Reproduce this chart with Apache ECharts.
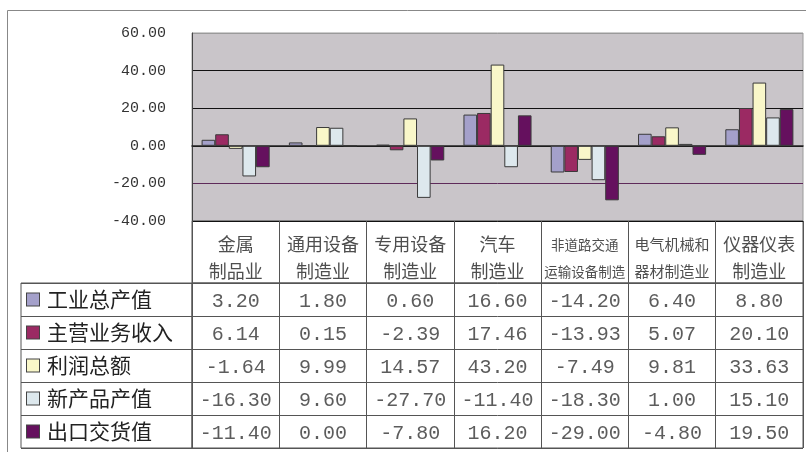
<!DOCTYPE html>
<html>
<head>
<meta charset="utf-8">
<script src="https://cdn.jsdelivr.net/npm/echarts@6/dist/echarts.min.js"></script>
<style>
  html, body { margin: 0; padding: 0; background: #fff; }
  #main { width: 806px; height: 452px; }
</style>
</head>
<body>
<div id="main"></div>
<script>
var categories = ['金属\n制品业', '通用设备\n制造业', '专用设备\n制造业', '汽车\n制造业',
    '非道路交通\n运输设备制造', '电气机械和\n器材制造业', '仪器仪表\n制造业'];
var seriesNames = ['工业总产值', '主营业务收入', '利润总额', '新产品产值', '出口交货值'];
var grossOutput = [3.20, 1.80, 0.60, 16.60, -14.20, 6.40, 8.80];
var mainRevenue = [6.14, 0.15, -2.39, 17.46, -13.93, 5.07, 20.10];
var totalProfit = [-1.64, 9.99, 14.57, 43.20, -7.49, 9.81, 33.63];
var newProductOutput = [-16.30, 9.60, -27.70, -11.40, -18.30, 1.00, 15.10];
var exportValue = [-11.40, 0.00, -7.80, 16.20, -29.00, -4.80, 19.50];
var yTicks = [-40, -20, 0, 20, 40, 60];

var allValues = [grossOutput, mainRevenue, totalProfit, newProductOutput, exportValue];
var colors = ['#a4a0ca', '#9b2a63', '#f9f7c9', '#dde8ed', '#65105e'];
// header font size, the long names are set smaller
var headerSizes = [18, 18, 18, 18, 13.5, 15, 18];

var cjk = '"Noto Sans CJK SC", sans-serif';
var mono = '"Liberation Mono", monospace';
var lineCol = '#555';

var chart = echarts.init(document.getElementById('main'));

var series = [];
// bars
allValues.forEach(function (vals, i) {
    series.push({
        name: seriesNames[i],
        type: 'bar',
        xAxisIndex: 0,
        yAxisIndex: 0,
        data: vals,
        barGap: '0%',
        barCategoryGap: '22%',
        itemStyle: { color: colors[i], borderColor: '#3a3a3a', borderWidth: 1 },
        silent: true
    });
});

// header row text
var headRich = {};
headerSizes.forEach(function (s, i) {
    headRich['h' + i] = { fontSize: s, fontFamily: cjk, color: '#222', lineHeight: 27, align: 'center' };
});
series.push({
    type: 'scatter',
    xAxisIndex: 1,
    yAxisIndex: 1,
    symbolSize: 0,
    silent: true,
    data: categories.map(function (c, i) { return [i, 0]; }),
    label: {
        show: true,
        position: 'inside',
        offset: [0, 6],
        formatter: function (p) {
            var i = p.dataIndex;
            return categories[i].split('\n').map(function (l) {
                return '{h' + i + '|' + l + '}';
            }).join('\n');
        },
        rich: headRich
    }
});

// table values
var cells = [];
allValues.forEach(function (vals, r) {
    vals.forEach(function (v, c) { cells.push([c, r, v]); });
});
series.push({
    type: 'scatter',
    xAxisIndex: 2,
    yAxisIndex: 2,
    symbolSize: 0,
    silent: true,
    data: cells,
    label: {
        show: true,
        position: 'inside',
        offset: [0, 2],
        fontFamily: mono,
        fontSize: 20,
        color: '#333',
        formatter: function (p) { return p.value[2].toFixed(2); }
    }
});

var legendRich = { t: { fontFamily: cjk, fontSize: 21, color: '#222', padding: [0, 0, 0, 8] } };
colors.forEach(function (c, i) {
    legendRich['b' + i] = { width: 12, height: 12, backgroundColor: c, borderColor: '#444', borderWidth: 1 };
});

var tableLine = { show: true, interval: 0, lineStyle: { color: lineCol, width: 1 } };

var option = {
    animation: false,
    backgroundColor: '#fff',
    graphic: [{
        type: 'rect',
        shape: { x: 7.5, y: 10.5, width: 810, height: 450 },
        style: { fill: 'none', stroke: '#888', lineWidth: 1 },
        silent: true
    }],
    grid: [
        { left: 192, top: 33, width: 611, height: 188, show: true, backgroundColor: '#c9c5c9', borderColor: '#9a9a9a', borderWidth: 1 },
        { left: 192, top: 221, width: 611, height: 62, show: true, backgroundColor: 'transparent', borderColor: lineCol, borderWidth: 1 },
        { left: 192, top: 283, width: 611, height: 165, show: true, backgroundColor: 'transparent', borderColor: lineCol, borderWidth: 1 },
        { left: 21, top: 283, width: 171, height: 165, show: true, backgroundColor: 'transparent', borderColor: lineCol, borderWidth: 1 }
    ],
    xAxis: [
        { type: 'category', gridIndex: 0, data: categories,
          axisLine: { show: true, onZero: true, lineStyle: { color: '#222', width: 1.5 } },
          axisTick: { show: false }, axisLabel: { show: false }, splitLine: { show: false } },
        { type: 'category', gridIndex: 1, data: categories,
          axisLine: { show: false }, axisTick: { show: false }, axisLabel: { show: false, interval: 0 },
          splitLine: tableLine },
        { type: 'category', gridIndex: 2, data: categories,
          axisLine: { show: false }, axisTick: { show: false }, axisLabel: { show: false, interval: 0 },
          splitLine: tableLine },
        { type: 'value', gridIndex: 3, min: 0, max: 1, show: false }
    ],
    yAxis: [
        { type: 'value', gridIndex: 0, min: yTicks[0], max: yTicks[yTicks.length - 1], interval: 20,
          axisLine: { show: true, lineStyle: { color: '#444' } },
          axisTick: { show: false },
          axisLabel: { margin: 26, fontFamily: mono, fontSize: 15, color: '#333',
                       formatter: function (v) { return v.toFixed(2); } },
          splitLine: { show: true, lineStyle: { color: ['#111', '#5e2a5a', '#111', '#111', '#111', '#9a9a9a'], width: 1 } } },
        { type: 'value', gridIndex: 1, min: -1, max: 1, show: false },
        { type: 'category', gridIndex: 2, data: seriesNames, inverse: true,
          axisLine: { show: false }, axisTick: { show: false }, axisLabel: { show: false, interval: 0 },
          splitLine: tableLine },
        { type: 'category', gridIndex: 3, data: seriesNames, inverse: true,
          axisLine: { show: false }, axisTick: { show: false },
          splitLine: tableLine,
          axisLabel: { inside: true, margin: 6, align: 'left', interval: 0,
                       formatter: function (v, i) { return '{b' + i + '|}{t|' + v + '}'; },
                       rich: legendRich } }
    ],
    series: series
};

chart.setOption(option);
</script>
</body>
</html>
